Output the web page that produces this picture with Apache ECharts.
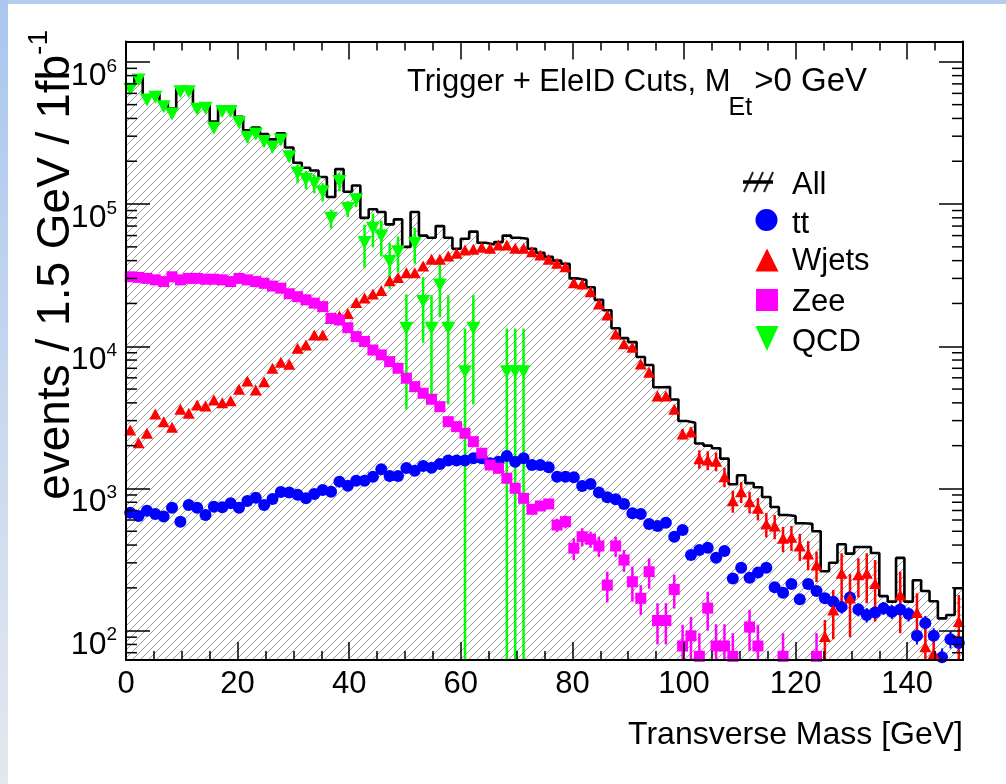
<!DOCTYPE html>
<html><head><meta charset="utf-8">
<script src="https://cdn.jsdelivr.net/npm/echarts@6/dist/echarts.min.js"></script>
<style>html,body{margin:0;padding:0;background:#fff;overflow:hidden}#c{width:1006px;height:784px}</style>
</head><body><div id="c"></div>
<script>
// ---------------- data (100 bins of 1.5 GeV, 0-150 GeV) ----------------
const binWidth = 1.5;
const xMin = 0, xMax = 150;
const yMin = 62.2, yMax = 1.39e6;
const xTickStep = 20;
const seriesNames = ['All', 'tt', 'Wjets', 'Zee', 'QCD'];

const allHist = [680000,780000,580000,600000,520000,470000,650000,650000,500000,510000,
 380000,480000,480000,410000,330000,345000,310000,285000,315000,250000,
 195000,180000,172000,155000,112000,176000,122000,135000,80000,92000,
 88000,72000,78000,50000,88000,60000,58000,70000,58000,48500,
 57000,64000,53500,52000,54000,60000,58000,57000,48500,45500,
 42500,40000,38000,30000,29200,26000,21200,17900,13400,11400,
 10700,8400,7380,5150,5160,4220,2980,2900,2070,2000,
 1920,1620,1070,1240,1090,1020,870,740,650,640,
 569,565,500,262,300,405,348,388,388,352,
 175,160,325,160,226,190,161,122,129,199];

const ttVals = [676,641,698,662,634,733,584,766,733,651,
 745,738,787,733,817,862,766,844,945,935,
 904,853,915,976,950,1117,1046,1135,1135,1211,
 1365,1224,1224,1395,1330,1439,1400,1487,1570,1570,
 1570,1631,1631,1504,1544,1693,1544,1631,1463,1463,
 1409,1211,1211,1199,1042,1076,935,867,839,778,
 669,662,563,545,575,458,511,341,369,383,
 326,363,233,277,236,256,277,202,185,213,
 166,213,190,169,160,147,171,141,129,134,
 144,136,141,131,92,113,92,65,87,82];

const wjetsVals = [2577,2099,2444,3342,2951,2693,3606,3381,3866,3801,
 4190,4010,4140,4985,5703,4930,5640,7000,7720,7470,
 9680,10200,12000,12000,15700,16300,17000,20300,21800,23300,
 24700,28900,30500,32900,32900,36700,40900,40900,43200,45100,
 47600,48100,49700,48900,51500,51500,48900,48900,46200,43800,
 40900,38400,36200,28000,27400,24200,19800,16600,12200,10400,
 9840,7510,6560,4470,4470,3610,2415,2500,1615,1585,
 1555,1210,820,949,808,726,563,545,446,454,
 394,346,290,91,140,253,170,247,253,215,
 null,null,178,null,134,77,69,null,null,116];

const zeeVals = [30800,30500,30000,29300,28500,30800,29300,30000,30000,29600,
 29600,29300,28500,30000,29300,28500,27700,26500,25600,23400,
 22300,21200,20100,19000,15700,15300,13500,11700,10800,9410,
 8700,7800,7000,5960,5200,4670,4240,3760,2950,2720,
 2444,2133,1770,1463,1386,1180,1003,853,714,753,
 778,553,584,380,458,440,394,209,394,314,
 221,169,260,118,118,195,78,92,66,144,
 78,78,66,null,106,78,null,null,66,null,
 null,null,66,null,null,null,null,null,null,null,
 null,null,null,null,null,null,null,null,null,null];

const qcdVals = [641000,746000,540000,563000,484000,430000,617000,617000,464000,472000,
 341000,447000,447000,374000,295000,311000,275000,251000,282000,215000,
 165000,149000,140000,122000,79400,144000,93000,107000,53600,67600,
 59700,39400,46200,13400,53100,20600,13400,27000,13400,null,
 6620,13400,null,null,null,6620,6620,6620,null,null,
 null,null,null,null,null,null,null,null,null,null,
 null,null,null,null,null,null,null,null,null,null,
 null,null,null,null,null,null,null,null,null,null,
 null,null,null,null,null,null,null,null,null,null,
 null,null,null,null,null,null,null,null,null,null];

// [bin, error] pairs where the error bars are visible
const ttErr = [[84,15],[85,15],[86,15],[87,15],[88,15],[89,15],[90,15],[91,15],[92,15],[93,15],[94,12],[95,14],[96,12],[97,10],[98,12],[99,12]];
const wjetsErr = [[60,300],[61,250],[62,250],[63,200],[64,200],[65,200],[66,200],[67,200],[68,240],[69,240],[70,235],[71,190],[72,145],[73,160],[74,140],[75,130],[76,110],[77,105],[78,90],[79,90],[80,85],[81,80],[82,70],[83,28],[84,53],[85,97],[86,80],[87,76],[88,97],[89,99],[92,82],[94,49],[95,30],[96,25],[99,62]];
const zeeErr = [[45,60],[46,55],[47,50],[48,45],[49,45],[50,48],[51,60],[52,60],[53,67],[54,67],[55,57],[56,64],[57,51],[58,64],[59,55],[60,61],[61,40],[62,63],[63,38],[64,38],[65,52],[66,32],[67,33],[68,30],[69,44],[70,33],[71,33],[72,30],[74,34],[75,32],[78,30],[82,30]];
const qcdErr = [[0,30000],[1,35000],[2,27000],[3,28000],[4,24000],[5,21000],[6,30000],[7,30000],[8,23000],[9,23000],[10,17000],[11,22000],[12,22000],[13,19000],[14,24000],[15,25000],[16,22000],[17,20000],[18,22000],[19,17000],[20,25000],[21,22000],[22,21000],[23,18000],[24,12000],[25,21000],[26,12000],[27,12000],[28,18000],[29,18000],[30,17000],[31,14000],[32,13000],[33,9800],[34,15000],[35,10000],[36,9500],[37,11000],[38,9500],[40,6700],[41,9500],[45,6700],[46,6700],[47,6700]];

const minorDecades = [1, 2, 3, 4, 5];
const minorMultipliers = [2, 3, 4, 5, 6, 7, 8, 9];

// ---------------- helpers ----------------
const FONT = '"Liberation Sans", Arial, Helvetica, sans-serif';
const C_TT = '#0000ff', C_W = '#ff0000', C_Z = '#ff00ff', C_Q = '#00ff00';

function pts(vals) {
  const out = [];
  vals.forEach((v, i) => { if (v != null) out.push([(i + 0.5) * binWidth, v]); });
  return out;
}
function errPts(vals, errs) {
  return errs.filter(p => vals[p[0]] != null).map(p => [(p[0] + 0.5) * binWidth, vals[p[0]], p[1]]);
}
const histData = allHist.map((v, i) => [i * binWidth, v]);
histData.push([xMax, allHist[allHist.length - 1]]);

const minorVals = [];
minorDecades.forEach(d => minorMultipliers.forEach(m => {
  const v = m * Math.pow(10, d);
  if (v > yMin && v < yMax) minorVals.push([0, v]);
}));

// hatch pattern
const pc = document.createElement('canvas');
pc.width = 8; pc.height = 8;
const g = pc.getContext('2d');
g.strokeStyle = '#9a9a9a'; g.lineWidth = 1;
g.beginPath();
g.moveTo(0, 8); g.lineTo(8, 0);
g.moveTo(-2, 2); g.lineTo(2, -2);
g.moveTo(6, 10); g.lineTo(10, 6);
g.stroke();

// text measuring for the caption pieces
const mctx = document.createElement('canvas').getContext('2d');
function textW(t, size) { mctx.font = size + 'px "Liberation Sans", Arial, sans-serif'; return mctx.measureText(t).width; }
const cap1 = 'Trigger + EleID Cuts, M', capSub = 'Et', cap2 = '>0 GeV';
const capX = 407;
const capW1 = textW(cap1, 31), capWs = textW(capSub, 25);

function errSeries(data, color, width) {
  return {
    type: 'custom', data: data, z: 3, silent: true,
    encode: { x: 0, y: 1 },
    renderItem: function (params, api) {
      const x = api.value(0), v = api.value(1), e = api.value(2);
      const lo = Math.max(v - e, yMin), hi = Math.min(v + e, yMax);
      const p1 = api.coord([x, lo]), p2 = api.coord([x, hi]);
      return { type: 'line', shape: { x1: p1[0], y1: p1[1], x2: p2[0], y2: p2[1] },
        style: { stroke: color, lineWidth: width } };
    }
  };
}
function markSeries(name, data, color, symbol, size, rot) {
  return { name: name, type: 'scatter', data: data, z: 4, silent: true,
    symbol: symbol, symbolSize: size, symbolRotate: rot || 0,
    itemStyle: { color: color, opacity: 1 } };
}

const supLabel = {
  b: { fontSize: 32, fontFamily: FONT, color: '#000', lineHeight: 32, verticalAlign: 'top', padding: [14, 0, 0, 0] },
  s: { fontSize: 19, fontFamily: FONT, color: '#000', lineHeight: 19, verticalAlign: 'top', padding: [11, 0, 0, 0] }
};
function logLabel(v) {
  const l = Math.log10(v);
  if (Math.abs(l - Math.round(l)) > 1e-6) return '';
  return '{b|10}{s|' + Math.round(l) + '}';
}

const xAxisBase = {
  type: 'value', min: xMin, max: xMax, interval: xTickStep, z: 10,
  axisLine: { show: true, onZero: false, lineStyle: { color: '#000', width: 2 } },
  axisTick: { show: true, inside: true, length: 18, lineStyle: { color: '#000', width: 1.5 } },
  minorTick: { show: true, splitNumber: 4, length: 9, lineStyle: { color: '#000', width: 1.5 } },
  splitLine: { show: false }, minorSplitLine: { show: false }
};
const yAxisBase = {
  type: 'log', logBase: 10, min: yMin, max: yMax, z: 10,
  axisLine: { show: true, onZero: false, lineStyle: { color: '#000', width: 2 } },
  axisTick: { show: true, inside: true, length: 24, lineStyle: { color: '#000', width: 1.5 } },
  splitLine: { show: false }
};

const chart = echarts.init(document.getElementById('c'), null, { renderer: 'canvas' });
chart.setOption({
  animation: false,
  backgroundColor: '#ffffff',
  grid: { left: 126, right: 43, top: 41.5, bottom: 124, containLabel: false },
  xAxis: [
    Object.assign({}, xAxisBase, { position: 'bottom',
      axisLabel: { show: true, showMaxLabel: false, fontSize: 31, fontFamily: FONT, color: '#000', margin: 9,
        formatter: v => (v % xTickStep === 0 && v < xMax) ? String(v) : '' } }),
    Object.assign({}, xAxisBase, { position: 'top', axisLabel: { show: false } })
  ],
  yAxis: [
    Object.assign({}, yAxisBase, { position: 'left',
      axisLabel: { show: true, margin: 9, formatter: logLabel, rich: supLabel } }),
    Object.assign({}, yAxisBase, { position: 'right', axisLabel: { show: false } })
  ],
  series: [
    { name: 'All', type: 'line', data: histData, step: 'end', showSymbol: false, symbol: 'none', z: 1, silent: true,
      lineStyle: { color: '#000', width: 2.6 },
      areaStyle: { color: { image: pc, repeat: 'repeat' }, opacity: 1, origin: 'start' } },
    { type: 'custom', data: minorVals, z: 11, silent: true, encode: { x: 0, y: 1 },
      renderItem: function (params, api) {
        const v = api.value(1);
        const pl = api.coord([xMin, v]), pr = api.coord([xMax, v]);
        return { type: 'group', children: [
          { type: 'line', shape: { x1: pl[0], y1: pl[1], x2: pl[0] + 11, y2: pl[1] }, style: { stroke: '#000', lineWidth: 1.5 } },
          { type: 'line', shape: { x1: pr[0] - 11, y1: pr[1], x2: pr[0], y2: pr[1] }, style: { stroke: '#000', lineWidth: 1.5 } }
        ] };
      } },
    errSeries(errPts(ttVals, ttErr), C_TT, 2),
    markSeries('tt', pts(ttVals), C_TT, 'circle', 12),
    errSeries(errPts(wjetsVals, wjetsErr), C_W, 2.5),
    markSeries('Wjets', pts(wjetsVals), C_W, 'triangle', [12, 11]),
    errSeries(errPts(zeeVals, zeeErr), C_Z, 2.5),
    markSeries('Zee', pts(zeeVals), C_Z, 'rect', 11),
    errSeries(errPts(qcdVals, qcdErr), C_Q, 2.5),
    markSeries('QCD', pts(qcdVals), C_Q, 'triangle', [14, 13], 180)
  ],
  graphic: [
    { type: 'rect', shape: { x: 0, y: 0, width: 1006, height: 4 }, style: { fill: '#b3cdee' }, z: 0, silent: true },
    { type: 'rect', shape: { x: 0, y: 0, width: 8, height: 784 }, z: 0, silent: true,
      style: { fill: new echarts.graphic.LinearGradient(0, 0, 0, 1, [{ offset: 0, color: '#aac7ee' }, { offset: 1, color: '#e4e8ef' }]) } },
    // y-axis title
    { type: 'text', x: 44, y: 30, rotation: Math.PI / 2, z: 20, silent: true,
      style: { text: '{m|events / 1.5 GeV / 1fb}{s|-1}', align: 'right', verticalAlign: 'middle',
        rich: { m: { fontSize: 46, fontFamily: FONT, fill: '#000', lineHeight: 46, verticalAlign: 'top', padding: [12, 0, 0, 0] },
                s: { fontSize: 28, fontFamily: FONT, fill: '#000', lineHeight: 28, verticalAlign: 'top', padding: [4, 0, 0, 0] } } } },
    // x-axis title
    { type: 'text', x: 963, y: 735, z: 20, silent: true,
      style: { text: 'Transverse Mass [GeV]', fontSize: 32, fontFamily: FONT, fill: '#000', align: 'right', verticalAlign: 'middle' } },
    // plot caption
    { type: 'text', x: capX, y: 82, z: 20, silent: true,
      style: { text: cap1, fontSize: 31, fontFamily: FONT, fill: '#000', align: 'left', verticalAlign: 'middle' } },
    { type: 'text', x: capX + capW1 - 2, y: 108, z: 20, silent: true,
      style: { text: capSub, fontSize: 25, fontFamily: FONT, fill: '#000', align: 'left', verticalAlign: 'middle' } },
    { type: 'text', x: capX + capW1 + capWs, y: 82, z: 20, silent: true,
      style: { text: cap2, fontSize: 33, fontFamily: FONT, fill: '#000', align: 'left', verticalAlign: 'middle' } },
    // legend
    { type: 'group', z: 20, silent: true, children: [
      { type: 'line', shape: { x1: 744, y1: 192, x2: 753, y2: 172 }, style: { stroke: '#222', lineWidth: 2 } },
      { type: 'line', shape: { x1: 754, y1: 192, x2: 763, y2: 172 }, style: { stroke: '#222', lineWidth: 2 } },
      { type: 'line', shape: { x1: 764, y1: 192, x2: 773, y2: 172 }, style: { stroke: '#222', lineWidth: 2 } },
      { type: 'line', shape: { x1: 743, y1: 182, x2: 773, y2: 182 }, style: { stroke: '#000', lineWidth: 3.5 } },
      { type: 'circle', shape: { cx: 766.5, cy: 220, r: 11 }, style: { fill: C_TT } },
      { type: 'polygon', shape: { points: [[767, 248.5], [755.5, 271.5], [778.5, 271.5]] }, style: { fill: C_W } },
      { type: 'rect', shape: { x: 756, y: 289, width: 22, height: 22 }, style: { fill: C_Z } },
      { type: 'polygon', shape: { points: [[755.5, 326], [778.5, 326], [767, 351]] }, style: { fill: C_Q } },
      { type: 'text', x: 792, y: 185, style: { text: seriesNames[0], fontSize: 31, fontFamily: FONT, fill: '#000', verticalAlign: 'middle' } },
      { type: 'text', x: 792, y: 224, style: { text: seriesNames[1], fontSize: 31, fontFamily: FONT, fill: '#000', verticalAlign: 'middle' } },
      { type: 'text', x: 792, y: 261, style: { text: seriesNames[2], fontSize: 31, fontFamily: FONT, fill: '#000', verticalAlign: 'middle' } },
      { type: 'text', x: 792, y: 302, style: { text: seriesNames[3], fontSize: 31, fontFamily: FONT, fill: '#000', verticalAlign: 'middle' } },
      { type: 'text', x: 792, y: 342, style: { text: seriesNames[4], fontSize: 31, fontFamily: FONT, fill: '#000', verticalAlign: 'middle' } }
    ] }
  ]
});
</script></body></html>
